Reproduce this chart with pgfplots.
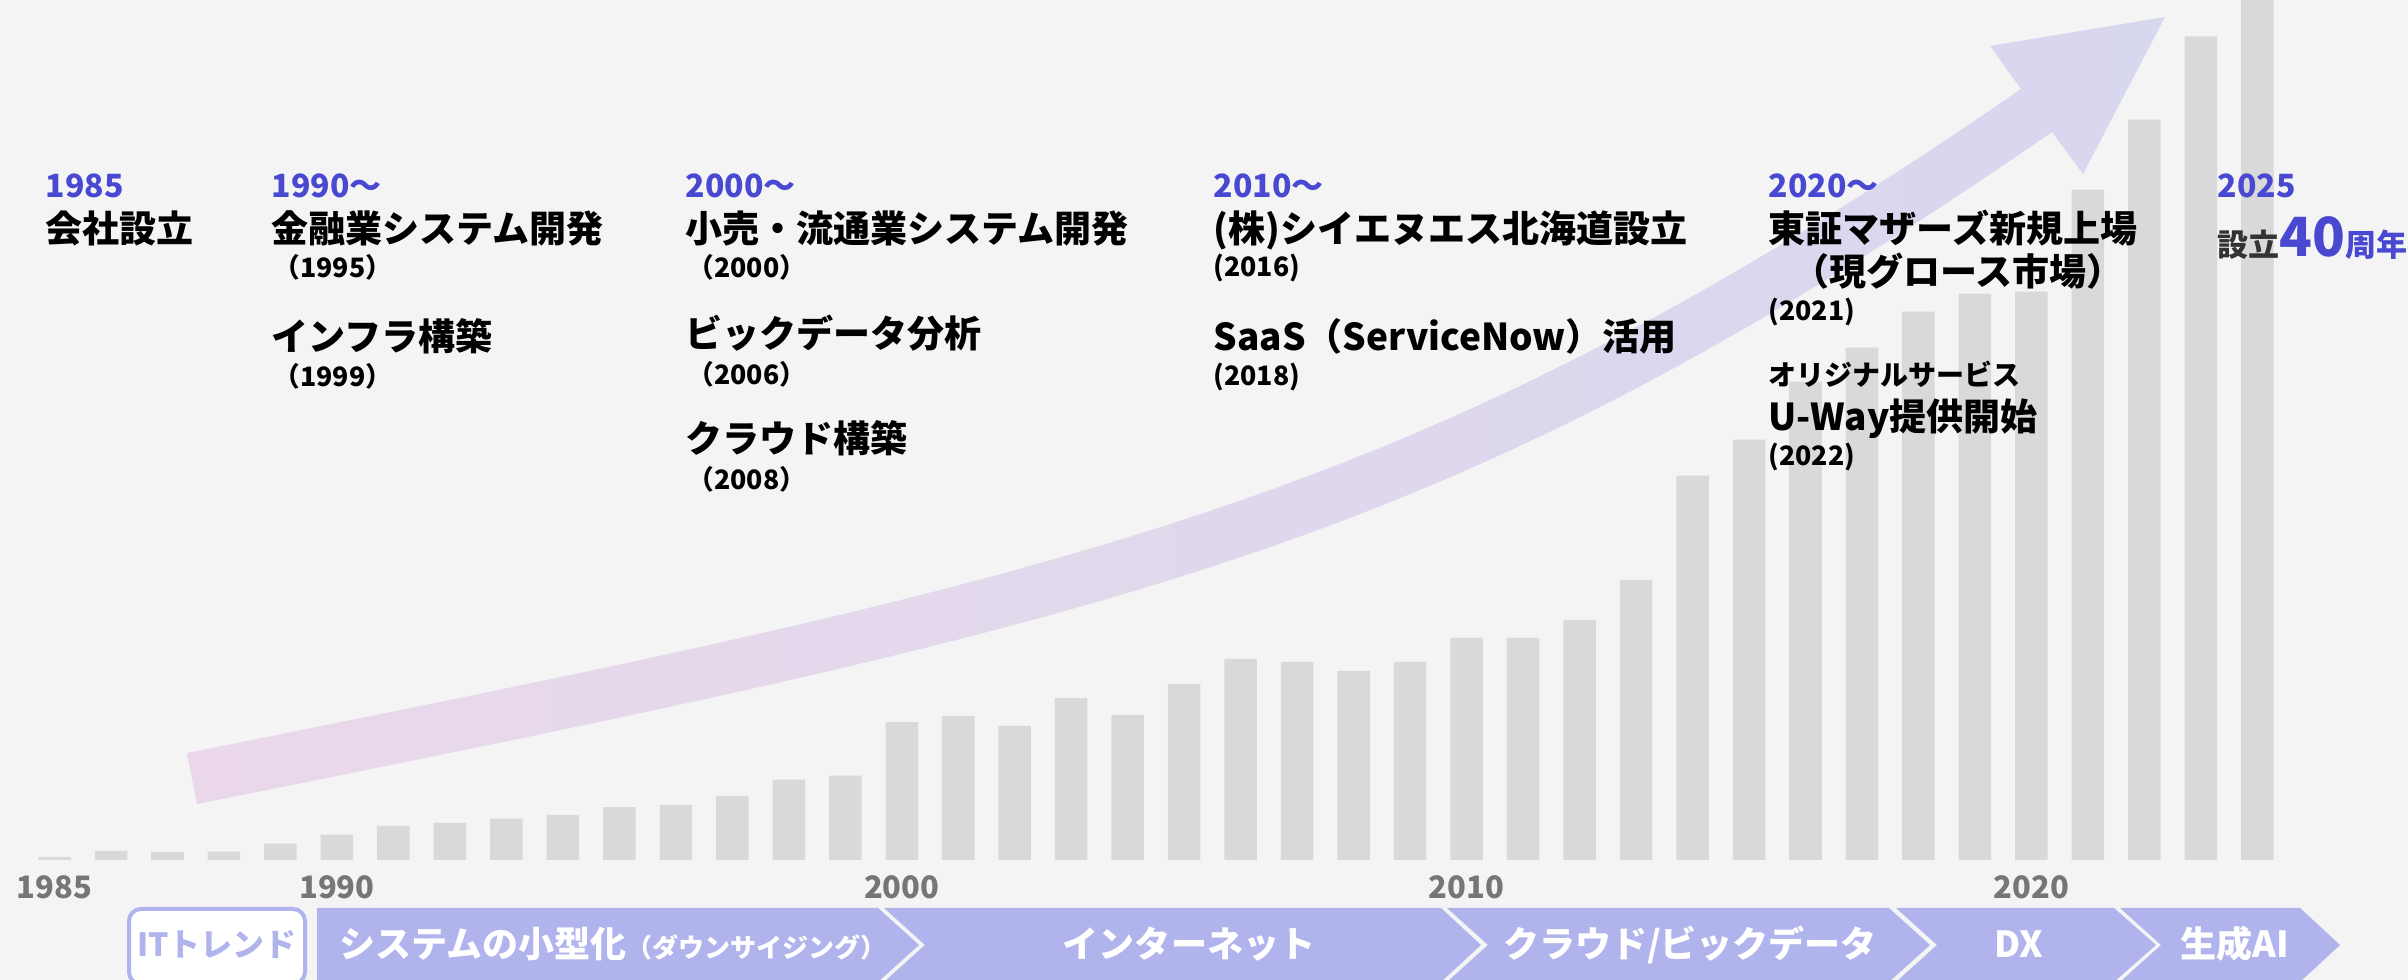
\documentclass[border=0pt]{standalone}
\usepackage{fontspec}
\setmainfont{Noto Sans CJK JP}
\usepackage{pgfplots}
\pgfplotsset{compat=1.18}
\definecolor{bg}{HTML}{F4F4F4}
\definecolor{barg}{HTML}{D9D9D9}
\definecolor{blu}{HTML}{4848D0}
\definecolor{lav}{HTML}{B1B4EC}
\definecolor{tickg}{HTML}{767676}
\definecolor{arrL}{HTML}{EAD8EA}
\definecolor{arrR}{HTML}{D7D7EF}
\definecolor{dk}{HTML}{333333}
\newcommand\fsz[1]{\fontsize{#1}{#1}\selectfont}
\tikzset{
  t/.style={anchor=base west, inner sep=0pt, font=\bfseries},
  yr/.style={t, text=blu, font=\bfseries\fsz{9.1pt}},
  big/.style={t, font=\bfseries\fsz{10.53pt}},
  sm/.style={t, font=\bfseries\fsz{7.6pt}},
  seg/.style={fill=lav},
  band/.style={anchor=base, inner sep=0pt, text=white, font=\bfseries\fsz{10.24pt}}
}
\begin{document}
\begin{tikzpicture}[x=0.01cm,y=0.01cm]
\useasboundingbox (0,0) rectangle (2408,980);
\fill[bg] (0,0) rectangle (2408,980);

% growth arrow
\shade[left color=arrL, right color=arrR]
  (187,227) .. controls (1087,407) and (1421,477) .. (2021,891)
  -- (1990,934) -- (2165,963) -- (2083,806) -- (2052,848)
  .. controls (1452,434) and (1147,366) .. (197,176)
  -- cycle;

\begin{axis}[
  at={(0cm,1.2cm)}, anchor=south west,
  scale only axis, width=24.08cm, height=8.6cm,
  xmin=1984.0345, xmax=2026.692, ymin=0, ymax=860,
  axis line style={draw=none}, major tick length=0pt,
  ytick=\empty,
  xtick={1985,1990,2000,2010,2020},
  xticklabels={1985,1990,2000,2010,2020},
  xticklabel style={font=\bfseries\fsz{8.8pt}, text=tickg, anchor=north, inner sep=0pt, yshift=-0.15cm},
  ybar, bar width=0.325cm
]
\addplot[fill=barg, draw=none] coordinates {
(1985,2.7) (1986,9) (1987,7.7) (1988,8.3) (1989,16.3)
(1990,25.3) (1991,34) (1992,37) (1993,41.3) (1994,45)
(1995,52.7) (1996,55) (1997,64) (1998,80.3) (1999,84.3)
(2000,137.7) (2001,144) (2002,134) (2003,161.7) (2004,145)
(2005,175.7) (2006,201) (2007,198) (2008,189) (2009,198)
(2010,222) (2011,222) (2012,240) (2013,280) (2014,384)
(2015,420) (2016,478) (2017,512) (2018,548) (2019,566)
(2020,568) (2021,670) (2022,740) (2023,823) (2024,880)};
\end{axis}

% milestones
\node[yr] at (45,782) {1985};
\node[big] at (45,737) {会社設立};

\node[yr] at (271,782) {1990～};
\node[big] at (271,737) {金融業システム開発};
\node[sm] at (273,702) {（1995）};
\node[big] at (271,629) {インフラ構築};
\node[sm] at (273,593) {（1999）};

\node[yr] at (685,782) {2000～};
\node[big] at (685,737) {小売・流通業システム開発};
\node[sm] at (687,702) {（2000）};
\node[big] at (685,632) {ビックデータ分析};
\node[sm] at (687,595) {（2006）};
\node[big] at (685,527) {クラウド構築};
\node[sm] at (687,490) {（2008）};

\node[yr] at (1213,782) {2010～};
\node[big] at (1213,737) {(株)シイエヌエス北海道設立};
\node[sm] at (1213,703) {(2016)};
\node[big] at (1213,629) {SaaS（ServiceNow）活用};
\node[sm] at (1213,594) {(2018)};

\node[yr] at (1768,782) {2020～};
\node[big] at (1768,737) {東証マザーズ新規上場};
\node[big, anchor=base] at (1958,694) {（現グロース市場）};
\node[sm] at (1768,659) {(2021)};
\node[t, font=\bfseries\fsz{7.97pt}] at (1768,594) {オリジナルサービス};
\node[big] at (1768,549) {U-Way提供開始};
\node[sm] at (1768,514) {(2022)};

\node[yr] at (2217,782) {2025};
\node[t] at (2217,723) {{\color{dk}\fsz{8.82pt}設立}{\color{blu}\fsz{15.36pt}40}{\color{blu}\fsz{8.82pt}周年}};

% IT trend band
\draw[lav, line width=0.04cm, fill=white, rounded corners=0.12cm] (129,-4) rectangle (305,71);
\node[band, text=lav, font=\bfseries\fsz{9.1pt}] at (217,23) {ITトレンド};
\fill[seg] (317,72) -- (878,72) -- (919,35) -- (878,-2) -- (317,-2) -- cycle;
\fill[seg] (884,72) -- (1441,72) -- (1481,35) -- (1441,-2) -- (884,-2) -- (925,35) -- cycle;
\fill[seg] (1447,72) -- (1889,72) -- (1930,35) -- (1889,-2) -- (1447,-2) -- (1488,35) -- cycle;
\fill[seg] (1896,72) -- (2114,72) -- (2156,35) -- (2114,-2) -- (1896,-2) -- (1937,35) -- cycle;
\fill[seg] (2120,72) -- (2300,72) -- (2340,35) -- (2300,-2) -- (2120,-2) -- (2161,35) -- cycle;
\node[band, anchor=base west] at (339,22) {システムの小型化{\fsz{7.4pt}（ダウンサイジング）}};
\node[band] at (1189,22) {インターネット};
\node[band] at (1690,22) {クラウド/ビックデータ};
\node[band] at (2019,22) {DX};
\node[band] at (2235,22) {生成AI};
\end{tikzpicture}
\end{document}
